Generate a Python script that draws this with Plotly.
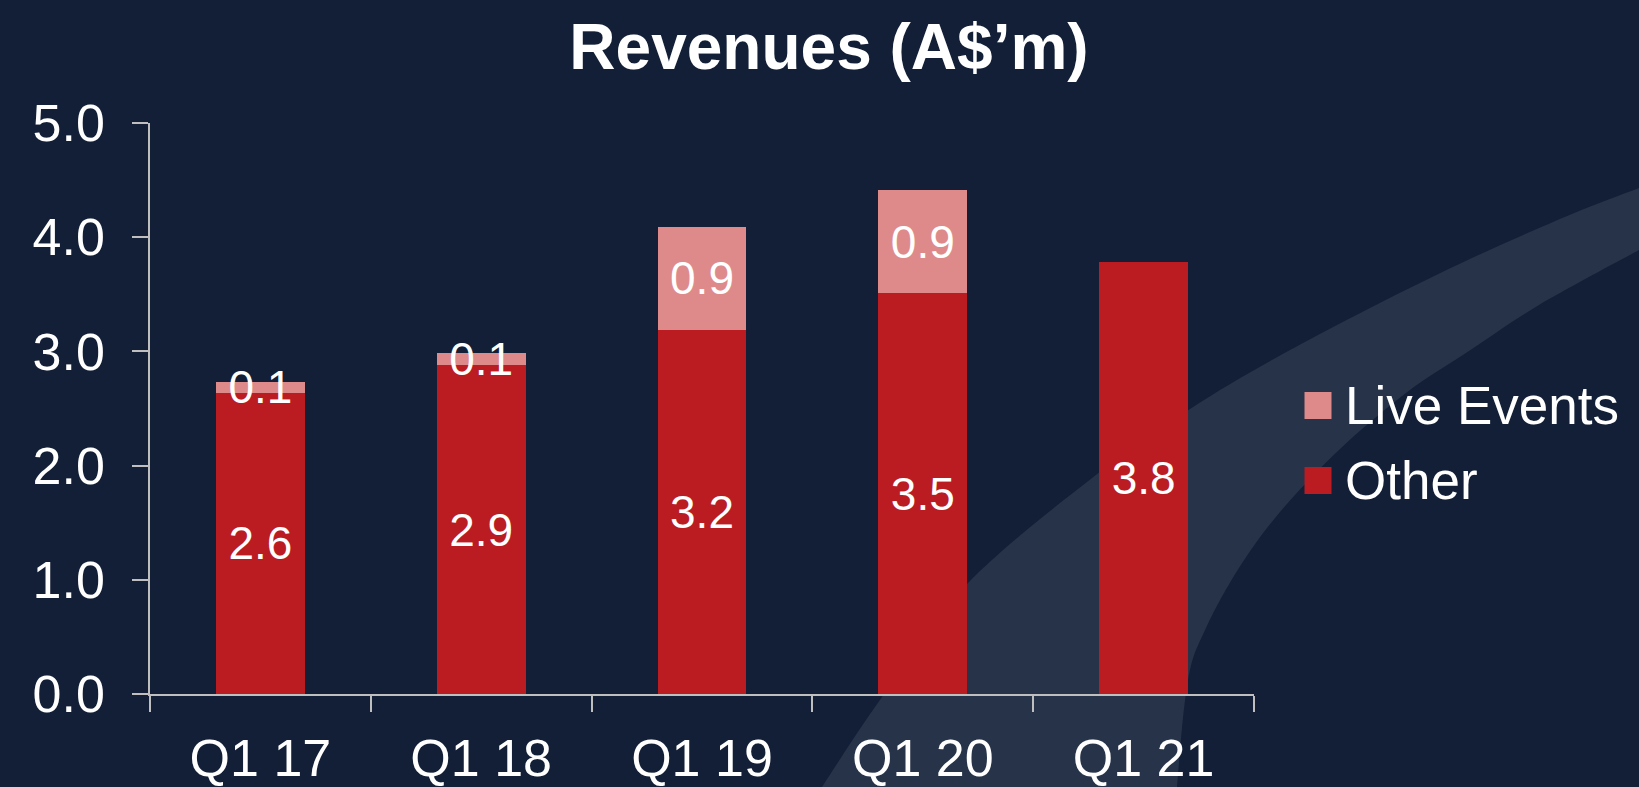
import plotly.graph_objects as go

# ---- data ----
categories = ["Q1 17", "Q1 18", "Q1 19", "Q1 20", "Q1 21"]
other = [2.64, 2.88, 3.19, 3.51, 3.78]
live_events = [0.09, 0.11, 0.90, 0.90, None]
series_names = ["Live Events", "Other"]
y_ticks = [0, 1, 2, 3, 4, 5]

# ---- style ----
BG = "#121f36"
SWOOSH = "#263349"
RED = "#ba1c22"
PINK = "#de8a8b"
AXIS = "#bfbfbf"
FONT = "Liberation Sans, Arial, sans-serif"

W, H = 1639, 787
ML, MR, MT, MB = 150, 385, 123, 93
PW, PH = W - ML - MR, H - MT - MB


def fx(px):
    return (px - ML) / PW


def fy(py):
    return (H - MB - py) / PH


def pt(p):
    return f"{fx(p[0]):.5f},{fy(p[1]):.5f}"


def smooth(points):
    """Catmull-Rom spline through pixel points -> SVG cubic segments."""
    segs = []
    n = len(points)
    for i in range(n - 1):
        p0 = points[max(i - 1, 0)]
        p1 = points[i]
        p2 = points[i + 1]
        p3 = points[min(i + 2, n - 1)]
        c1 = (p1[0] + (p2[0] - p0[0]) / 6, p1[1] + (p2[1] - p0[1]) / 6)
        c2 = (p2[0] - (p3[0] - p1[0]) / 6, p2[1] - (p3[1] - p1[1]) / 6)
        segs.append(f"C{pt(c1)} {pt(c2)} {pt(p2)}")
    return " ".join(segs)


fig = go.Figure()

fig.add_trace(go.Bar(
    x=categories, y=other, name=series_names[1],
    marker=dict(color=RED, line=dict(width=0)),
    texttemplate="%{y:.1f}", textposition="inside", insidetextanchor="middle",
    constraintext="none", textfont=dict(color="white", size=46, family=FONT),
    showlegend=False,
))
fig.add_trace(go.Bar(
    x=categories, y=live_events, name=series_names[0],
    marker=dict(color=PINK, line=dict(width=0)),
    texttemplate="%{y:.1f}", textposition="inside", insidetextanchor="middle",
    constraintext="none", textfont=dict(color="white", size=46, family=FONT),
    showlegend=False,
))

# decorative swoosh in the background (pixel outline of the slide artwork)
outer = [(795, 830), (822, 787), (882, 697), (968, 583), (1101, 471),
         (1190, 409), (1272, 360), (1372, 307), (1472, 258), (1572, 214), (1639, 188),
         (1680, 172)]
inner = [(1680, 228), (1639, 250), (1539, 305), (1472, 349), (1406, 393), (1339, 450),
         (1280, 512), (1239, 568), (1206, 628), (1188, 680), (1177, 787), (1175, 830)]
swoosh_path = (f"M{pt(outer[0])} " + smooth(outer) + f" L{pt(inner[0])} "
               + smooth(inner) + " Z")
shapes = [dict(type="path", xref="paper", yref="paper", path=swoosh_path,
               fillcolor=SWOOSH, line=dict(width=0), layer="below")]

# legend with large square swatches
legend_rows = [(series_names[0], PINK, 405.5), (series_names[1], RED, 480.5)]
annotations = []
for name, col, cy in legend_rows:
    shapes.append(dict(type="rect", xref="paper", yref="paper",
                       x0=fx(1304.5), x1=fx(1331.5), y0=fy(cy + 13.5), y1=fy(cy - 13.5),
                       fillcolor=col, line=dict(width=0)))
    annotations.append(dict(text=name, xref="paper", yref="paper", x=fx(1343), y=fy(cy),
                            xanchor="left", yanchor="middle", showarrow=False,
                            font=dict(color="white", size=53, family=FONT)))

fig.update_layout(
    width=W, height=H,
    margin=dict(l=ML, r=MR, t=MT, b=MB, autoexpand=False),
    paper_bgcolor=BG, plot_bgcolor="rgba(0,0,0,0)",
    barmode="stack", bargap=0.597,
    font=dict(family=FONT, color="white"),
    title=dict(text="Revenues (A$’m)", x=829 / W, xref="container", xanchor="center",
               y=1 - 47 / H, yref="container", yanchor="middle",
               font=dict(size=64, color="white", family=FONT, weight="bold")),
    xaxis=dict(showline=True, linecolor=AXIS, linewidth=1.5, ticks="outside",
               tickson="boundaries", ticklen=16, tickcolor=AXIS, tickwidth=1.5,
               tickfont=dict(size=52, color="white"), showgrid=False,
               ticklabelstandoff=18),
    yaxis=dict(range=[0, 5], tickvals=y_ticks, tickformat=".1f", showline=True,
               linecolor=AXIS, linewidth=1.5, ticks="outside", ticklen=16,
               tickcolor=AXIS, tickwidth=1.5, tickfont=dict(size=52, color="white"),
               showgrid=False, zeroline=False, ticklabelstandoff=17),
    shapes=shapes,
    annotations=annotations,
    showlegend=False,
)

fig.write_html(
    "out.html",
    config={"displayModeBar": False},
    post_script="document.body.style.margin='0';document.body.style.overflow='hidden';",
)
